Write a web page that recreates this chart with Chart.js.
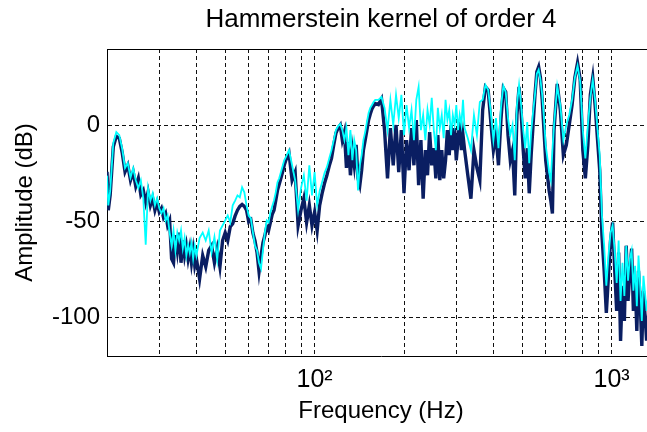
<!DOCTYPE html>
<html>
<head>
<meta charset="utf-8">
<script src="https://cdn.jsdelivr.net/npm/chart.js@4"></script>
<style>
  html, body { margin: 0; padding: 0; overflow: hidden; background: #fff; }
  #kernel-chart { display: block; }
</style>
</head>
<body>
<canvas id="kernel-chart" width="680" height="432"></canvas>
<script>
// frequency axis (Hz)
var freq = [
  20, 20.2, 20.5, 21, 21.5, 22, 22.5, 23, 23.5, 24, 24.5, 25, 25.5, 26, 26.5, 27, 27.5, 28, 28.5, 29, 29.5,
  30, 30.5, 31, 31.5, 32, 32.5, 33, 33.5, 34, 34.5, 35, 35.5, 36, 36.5, 37, 37.5, 38, 38.5, 39, 39.5,
  40, 41, 42, 43, 44, 45, 46, 47, 48, 49, 50, 51, 52, 53, 54, 55, 56, 57, 58, 59,
  60, 61, 62, 63, 64, 65, 66, 67, 68, 69, 70, 71, 72, 73, 74, 75, 76, 77, 78, 79,
  80, 82, 84, 86, 88, 90, 92, 94, 96, 98, 100, 102, 104, 106, 108, 110, 112, 114, 116, 118,
  120, 122, 124, 126, 128, 130, 132, 134, 136, 138, 140, 142, 144, 146, 148, 150, 152, 154, 156, 158,
  160, 164, 168, 172, 176, 180, 184, 188, 192, 196, 200, 204, 208, 212, 216, 220, 224, 228, 232, 236,
  240, 244, 248, 252, 256, 260, 264, 268, 272, 276, 280, 284, 288, 292, 296, 300, 304, 308, 312, 316,
  320, 328, 336, 344, 352, 360, 368, 376, 384, 392, 400, 408, 416, 424, 432, 440, 448, 456, 464, 472,
  480, 488, 496, 504, 512, 520, 528, 536, 544, 552, 560, 568, 576, 584, 592, 600, 608, 616, 624, 632,
  640, 656, 672, 688, 704, 720, 736, 752, 768, 784, 800, 816, 832, 848, 864, 880, 896, 912, 928, 944,
  960, 976, 992, 1008, 1024, 1040, 1056, 1072, 1088, 1104, 1120, 1136, 1152, 1168, 1184, 1200, 1216, 1232, 1248, 1264,
  1280, 1312, 1344, 1376
];

// dark blue trace (dB)
var navyDb = [
  -24, -44, -36, -11, -5.5, -6.5, -14, -24, -20.6, -28.4, -24, -31.6, -27.4, -36, -33.7, -40, -34.5, -41.5, -37.8, -44, -40,
  -45, -43, -47.8, -45.7, -52, -49.4, -69.3, -71.4, -57, -65, -55.7, -71.4, -59.8, -67.7, -62.5, -69.3, -64, -71.4, -65, -73,
  -69.3, -79.8, -67.7, -73.5, -65, -62.5, -71.4, -64, -73.5, -59.8, -55.7, -59.8, -52.6, -51, -47, -44, -42, -41, -42, -44,
  -50, -49, -56, -60, -66, -76, -68, -61, -57.2, -52.6, -54.6, -50.4, -46.2, -44, -38.9, -33.7, -30.5, -27.4, -24.2, -20.6,
  -18, -14.3, -28.4, -24.2, -52, -44, -37.8, -50.4, -41.5, -52, -45, -54.6, -41.5, -35.2, -30, -25.8, -21, -17, -10, -3.8,
  -1.2, 0.4, -7.5, -3.3, -22, -8.5, -25.8, -12.7, -20.6, -10, -27.4, -31, -23.2, -12.7, -7.5, -2.3, 3, 6.1, 8.7, 10.3,
  11.6, 11, 14, -2.3, -27.4, -1.2, -20.6, 0.4, -24.2, -2.3, -35.2, -7.5, -23.2, -1.2, -20.6, 3, -31, -7.5, -38, -12.7,
  -25.8, -3.3, -20.6, -11.7, -27.4, -4.9, -28.4, -12.7, -27.4, -18, -2.3, -15.3, 0.4, -12.7, -1.2, -18, -7.5, 3, -12.7, -4.9,
  -12.7, -25.8, -38, -12.7, -22, -28.4, 8.2, 20.3, 18.7, 2, -12.7, -4.9, -20.6, 3, 19.7, 17.6, -4.9, -18, -12.7, -36.3,
  5.6, 20.3, 7.2, -12.7, -27.4, -11.7, -35.2, -15.3, 0.4, 16.1, 28.1, 30.7, 25, 13.5, -2.3, -18, -25.8, -33.7, -38.9, -45.7,
  -2.3, 21.8, 8.2, -15.3, -10.1, 0.4, 10.8, 25, 32.8, 24, -12.7, -27.4, -10.1, 16.1, 25, 10.8, -6.5, -23.2, -57.2, -75.6,
  -97.5, -78.2, -59.8, -50.4, -74.5, -96.5, -66.1, -112.2, -83.4, -101.7, -62.5, -91.3, -75.6, -64, -96.5, -80.8, -107, -75.6, -91.3, -114.8,
  -86, -112, -91, -102
];

// cyan trace (dB)
var cyanDb = [
  -26, -41.5, -34, -9, -3.3, -4.9, -12, -22, -19.5, -27, -22, -28.4, -32.5, -28.4, -37.8, -62, -32.5, -39, -35.2, -41.5, -37.8,
  -43, -45.6, -43, -49.4, -46.8, -55.7, -62.5, -54.6, -65, -55.7, -59.8, -54.6, -64, -58.5, -67.7, -62, -66.4, -61, -69.3, -62.5,
  -67.7, -58.5, -55.7, -59.8, -54.6, -66, -58, -70, -54.6, -52, -49.4, -46.8, -50.4, -41.5, -39, -36.3, -37.3, -32.1, -34.7, -41.5,
  -46.8, -48.3, -55.7, -62.5, -65, -71.4, -74.5, -65, -55.7, -49.4, -50.4, -45.2, -42, -38.9, -34.7, -29.5, -27.4, -24.2, -21.1, -18,
  -16.4, -12.7, -20.6, -28.4, -44, -32.5, -25.8, -39, -20.6, -36.3, -24.2, -41.5, -34, -29.5, -24.7, -21.6, -17, -12.7, -7.5, -2.3,
  -0.2, 0.9, -2.3, -7.5, -1.2, -15.3, -2.3, -18, -7.5, -12.7, -33.7, -20.6, -15.3, -7.5, -3.3, 1.9, 6.6, 9.3, 10.8, 12.4,
  13.5, 13.5, 15, 9.3, -2.3, 13.5, 0.4, 16.1, 4, 16.1, -4.9, 10.8, -1.2, 8.2, -7.5, 13.5, 20.3, -2.3, 5.6, -7.5,
  8.2, 0.4, 14.5, -2.3, -12.7, 9.3, -1.2, 5.6, -6.5, 13.5, 3, 8.2, -4.9, 5.6, 0.4, 10.8, -2.3, 5.6, 0.4, 13.5,
  -1.2, -6.5, -12.7, 5.6, -4.9, 12.4, 13.5, 21.3, 18.7, 7.2, -7.5, 4, -11.7, 9.3, 20.8, 17.6, 4, -4.9, 0.4, -18,
  10.8, 21.3, 10.8, -2.3, -11.7, 1.9, -19.5, -3.3, 7.2, 16.1, 27.1, 29.2, 24, 16.1, 4, -10.1, -17, -24.2, -28.4, -12.7,
  0.4, 20.8, 10.8, -7.5, 0.4, 5.6, 13.5, 25, 31.3, 23, -2.3, -17, 0.4, 14.5, 24, 13.5, -1.2, -15.3, -46.8, -62.5,
  -83.4, -67.7, -55.7, -52, -65, -81.9, -59.8, -91.3, -71.4, -88.7, -62.5, -80.8, -69.3, -65, -86, -73, -94, -67.7, -83.4, -101.7,
  -78.2, -96.5, -81, -91
];

// grid and tick labels
var xGridTicks = [30, 40, 50, 60, 70, 80, 90, 100, 200, 300, 400, 500, 600, 700, 800, 900, 1000];
var xTickValues = [100, 1000];
var xTickLabels = ['10\u00B2', '10\u00B3'];
var yTicks = [-100, -50, 0];

var fontFamily = "'Liberation Sans', Arial, Helvetica, sans-serif";
var gridColor = '#111';

function toPoints(ys) {
    var pts = [];
    for (var i = 0; i < freq.length; i++) {
        pts.push({x: freq[i], y: ys[i]});
    }
    return pts;
}

var ctx = document.getElementById('kernel-chart');
var kernelChart = new Chart(ctx, {
    type: 'line',
    data: {
        datasets: [{
            label: 'Kernel A',
            data: toPoints(navyDb),
            borderColor: '#0a1e62',
            borderWidth: 3.4,
            order: 1,
            xAxisID: 'x',
            yAxisID: 'y'
        }, {
            label: 'Kernel B',
            data: toPoints(cyanDb),
            borderColor: '#00ffff',
            borderWidth: 1.8,
            order: 0,
            xAxisID: 'x',
            yAxisID: 'y'
        }]
    },
    options: {
        responsive: false,
        maintainAspectRatio: false,
        animation: false,
        devicePixelRatio: 1,
        layout: { padding: { left: 0, right: 25, top: 0, bottom: 0 } },
        elements: {
            line: { tension: 0, fill: false, borderJoinStyle: 'miter' },
            point: { radius: 0, hoverRadius: 0 }
        },
        plugins: {
            legend: { display: false },
            tooltip: { enabled: false }
        },
        scales: {
            x: {
                type: 'logarithmic',
                position: 'bottom',
                min: 20,
                max: 1400,
                afterBuildTicks: function(scale) {
                    scale.ticks = xGridTicks.map(function(v) { return {value: v}; });
                },
                afterFit: function(scale) { scale.height = 76; },
                grid: { color: gridColor, lineWidth: 1, drawTicks: false },
                border: { display: true, color: '#000', width: 1, dash: [4, 3] },
                ticks: {
                    autoSkip: false,
                    maxRotation: 0,
                    padding: 9,
                    color: '#000',
                    font: { family: fontFamily, size: 25 },
                    callback: function(value) {
                        var k = xTickValues.indexOf(value);
                        return k >= 0 ? xTickLabels[k] : '';
                    }
                },
                title: {
                    display: true,
                    text: 'Frequency (Hz)',
                    color: '#000',
                    font: { family: fontFamily, size: 24 },
                    padding: { top: 0, bottom: 6.6 }
                }
            },
            y: {
                type: 'linear',
                position: 'left',
                min: -120,
                max: 40,
                afterBuildTicks: function(scale) {
                    scale.ticks = yTicks.map(function(v) { return {value: v}; });
                },
                afterFit: function(scale) { scale.width = 107; },
                grid: { color: gridColor, lineWidth: 1, drawTicks: false },
                border: { display: true, color: '#000', width: 1, dash: [4, 3] },
                ticks: {
                    padding: 7,
                    color: '#000',
                    font: { family: fontFamily, size: 24 }
                },
                title: {
                    display: true,
                    text: 'Amplitude (dB)',
                    color: '#000',
                    font: { family: fontFamily, size: 24 },
                    padding: { top: 10.6, bottom: 0 }
                }
            },
            // top axis only carries the box edge and the centred title
            top: {
                type: 'linear',
                position: 'top',
                min: 0,
                max: 1,
                afterFit: function(scale) { scale.height = 49; },
                grid: { display: false, drawTicks: false },
                border: { display: true, color: '#000', width: 1 },
                ticks: { display: false },
                title: {
                    display: true,
                    text: 'Hammerstein kernel of order 4',
                    color: '#000',
                    font: { family: fontFamily, size: 26 },
                    padding: { top: 4.4, bottom: 0 }
                }
            }
        }
    }
});
</script>
</body>
</html>
